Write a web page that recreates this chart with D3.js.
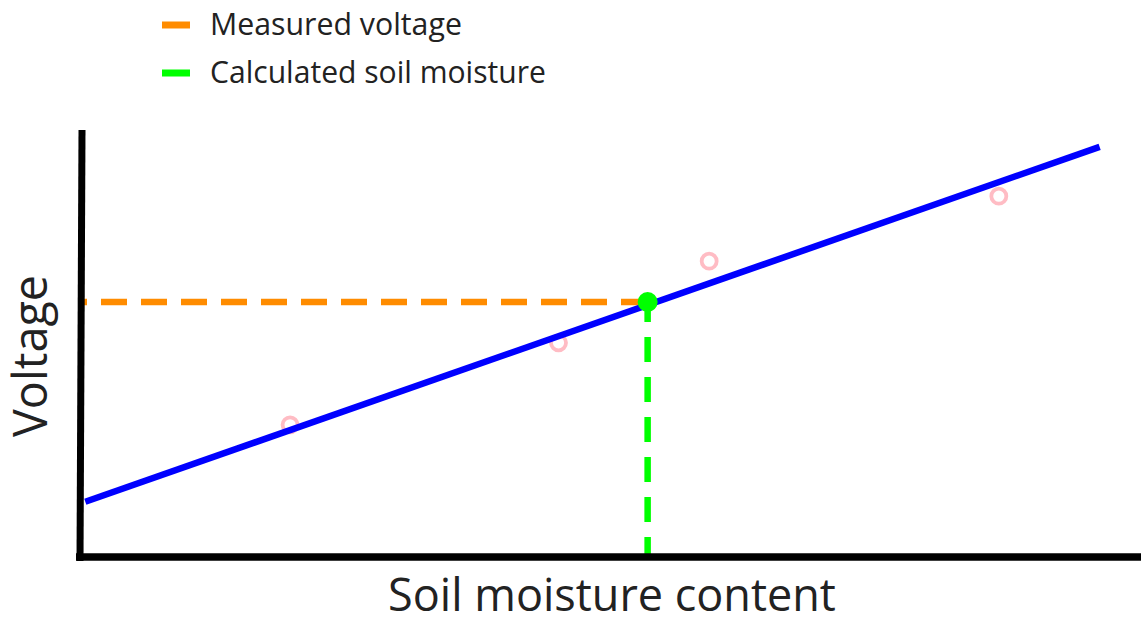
<!DOCTYPE html>
<html>
<head>
<meta charset="utf-8">
<script src="https://cdn.jsdelivr.net/npm/d3@7"></script>
<style>
  html, body { margin: 0; padding: 0; background: #fff; }
  svg { display: block; }
  text { font-family: "Open Sans", "Noto Sans", sans-serif; fill: #222; }
</style>
</head>
<body>
<svg id="chart" width="1141" height="621"></svg>
<script>
// Calibration readings (arbitrary units: soil moisture %, relative voltage)
const calibMoisture = [19.8, 45.1, 59.3, 86.6];
const calibVoltage  = [31.1, 50.4, 69.6, 84.9];

// Fitted calibration line end points
const fitMoisture = [0.5, 96.1];
const fitVoltage  = [13.0, 96.5];

// Reading: measured voltage and the moisture it maps to
const measuredVoltage = 60.0;
const calculatedMoisture = 53.5;

const legendLabels = ["Measured voltage", "Calculated soil moisture"];
const legendColors = ["#ff8c00", "#00ff00"];
const xTitle = "Soil moisture content";
const yTitle = "Voltage";

const svg = d3.select("#chart");

const x = d3.scaleLinear().domain([0, 100]).range([80, 1141]);
const y = d3.scaleLinear().domain([0, 100]).range([557, 132]);

// Fit a text element's font size so it spans the given width
function fitText(sel, width) {
  const node = sel.node();
  const fs = parseFloat(sel.attr("font-size"));
  const w = node.getComputedTextLength();
  sel.attr("font-size", (fs * width / w).toFixed(2));
}

// Reference lines from the measured voltage to the fit, and down to the axis
svg.append("line")
  .attr("x1", x(0) + 3).attr("x2", x(calculatedMoisture))
  .attr("y1", y(measuredVoltage)).attr("y2", y(measuredVoltage))
  .attr("stroke", legendColors[0]).attr("stroke-width", 6.5)
  .attr("stroke-dasharray", "26 14").attr("stroke-dashoffset", -18);

svg.append("line")
  .attr("x1", x(calculatedMoisture)).attr("x2", x(calculatedMoisture))
  .attr("y1", y(measuredVoltage)).attr("y2", y(0))
  .attr("stroke", legendColors[1]).attr("stroke-width", 6.5)
  .attr("stroke-dasharray", "20 15 25 15 25 15 25 15 25 15 25 15 25 15");

// Calibration points
svg.selectAll("circle.calib")
  .data(calibMoisture.map((m, i) => ({ m, v: calibVoltage[i] })))
  .join("circle")
  .attr("class", "calib")
  .attr("cx", d => x(d.m)).attr("cy", d => y(d.v))
  .attr("r", 7.5)
  .attr("fill", "none")
  .attr("stroke", "#ffbcc4")
  .attr("stroke-width", 3.8);

// Fitted line
svg.append("path")
  .datum(fitMoisture.map((m, i) => [m, fitVoltage[i]]))
  .attr("d", d3.line().x(d => x(d[0])).y(d => y(d[1])))
  .attr("stroke", "#0000ff").attr("stroke-width", 6.5)
  .attr("fill", "none");

// Axes
svg.append("line")
  .attr("x1", x(0) + 2).attr("y1", y(100) - 2)
  .attr("x2", x(0)).attr("y2", y(0) + 4)
  .attr("stroke", "#000").attr("stroke-width", 7);
svg.append("line")
  .attr("x1", x(0) - 4).attr("y1", y(0))
  .attr("x2", x(100)).attr("y2", y(0))
  .attr("stroke", "#000").attr("stroke-width", 7.5);

// Calculated point
svg.append("circle")
  .attr("cx", x(calculatedMoisture)).attr("cy", y(measuredVoltage))
  .attr("r", 10).attr("fill", legendColors[1]);

// Legend
const legend = svg.append("g");
const rowY = [25, 73];
legendLabels.forEach((lab, i) => {
  legend.append("line")
    .attr("x1", 162).attr("x2", 190)
    .attr("y1", rowY[i]).attr("y2", rowY[i])
    .attr("stroke", legendColors[i]).attr("stroke-width", 7);
  const t = legend.append("text")
    .attr("x", 210).attr("y", rowY[i] + 10)
    .attr("font-size", 26)
    .text(lab);
  fitText(t, i === 0 ? 252 : 336);
});

// Axis titles
const xt = svg.append("text")
  .attr("x", 612).attr("y", 611)
  .attr("text-anchor", "middle")
  .attr("font-size", 40)
  .text(xTitle);
fitText(xt, 448);

const yt = svg.append("text")
  .attr("transform", "translate(47,356) rotate(-90)")
  .attr("text-anchor", "middle")
  .attr("font-size", 40)
  .text(yTitle);
fitText(yt, 162);
</script>
</body>
</html>
